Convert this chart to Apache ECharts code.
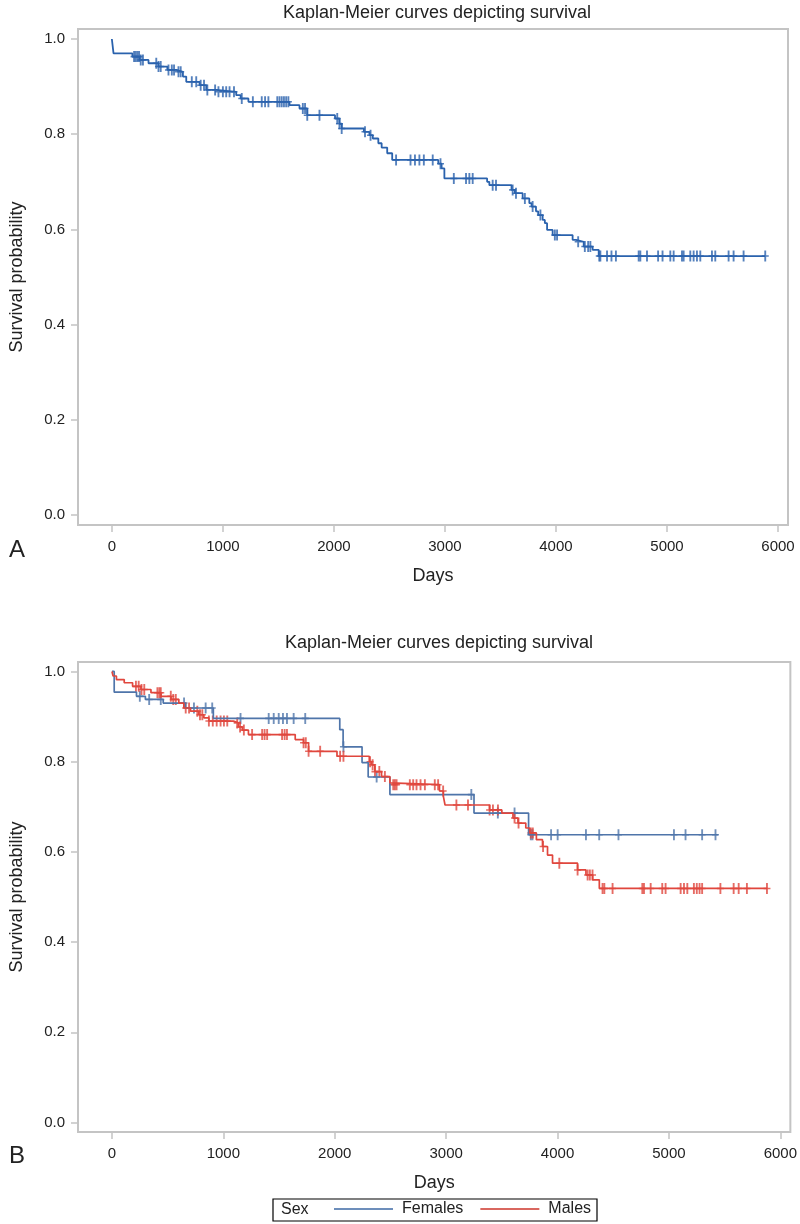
<!DOCTYPE html>
<html><head><meta charset="utf-8">
<script src="https://cdn.jsdelivr.net/npm/echarts@6/dist/echarts.min.js"></script>
<style>html,body{margin:0;padding:0;background:#fff}#c{width:800px;height:1224px}</style>
</head><body><div id="c"></div>
<script>
// ---------- DATA ----------
const xTicks = [0, 1000, 2000, 3000, 4000, 5000, 6000];
const yTicks = [0.0, 0.2, 0.4, 0.6, 0.8, 1.0];

// Panel A: overall KM curve (event times, survival after event)
const aTimes = [0, 15, 185, 250, 330, 420, 500, 580, 640, 670, 790, 850, 940, 1120, 1160, 1230, 1600, 1690, 1760, 2010, 2050, 2070, 2270, 2320, 2350, 2400, 2430, 2480, 2525, 2940, 2970, 2995, 3380, 3400, 3600, 3630, 3700, 3760, 3780, 3820, 3840, 3880, 3900, 3920, 3970, 4150, 4180, 4250, 4330, 4385];
const aSurv  = [1.000, 0.970, 0.963, 0.956, 0.949, 0.942, 0.935, 0.931, 0.921, 0.910, 0.903, 0.893, 0.889, 0.882, 0.875, 0.868, 0.861, 0.854, 0.840, 0.833, 0.822, 0.812, 0.805, 0.798, 0.791, 0.781, 0.772, 0.760, 0.746, 0.738, 0.728, 0.707, 0.700, 0.693, 0.683, 0.676, 0.665, 0.655, 0.648, 0.638, 0.630, 0.620, 0.613, 0.599, 0.588, 0.578, 0.574, 0.564, 0.557, 0.544];
const aEnd = 5885;
const aCensor = [200, 215, 230, 245, 260, 280, 400, 420, 440, 510, 540, 560, 600, 620, 720, 760, 800, 830, 860, 930, 960, 1000, 1030, 1060, 1100, 1170, 1270, 1350, 1380, 1410, 1490, 1510, 1530, 1550, 1570, 1590, 1720, 1740, 1760, 1870, 2030, 2050, 2070, 2280, 2330, 2560, 2690, 2730, 2770, 2810, 2890, 2960, 3080, 3190, 3220, 3250, 3430, 3460, 3610, 3640, 3720, 3790, 3860, 3990, 4010, 4200, 4260, 4290, 4310, 4390, 4400, 4460, 4500, 4540, 4745, 4760, 4820, 4920, 4960, 5030, 5060, 5135, 5150, 5210, 5240, 5270, 5300, 5405, 5435, 5555, 5600, 5690, 5885];

// Panel B: Females
const fTimes = [0, 20, 220, 300, 460, 660, 910, 2045, 2075, 2245, 2300, 2495, 3250, 3740];
const fSurv  = [1.000, 0.954, 0.945, 0.938, 0.930, 0.919, 0.896, 0.871, 0.833, 0.798, 0.766, 0.727, 0.686, 0.638];
const fEnd = 5440;
const fCensor = [250, 334, 438, 647, 736, 841, 900, 1154, 1407, 1452, 1497, 1535, 1571, 1631, 1735, 2078, 2376, 3226, 3464, 3614, 3760, 3775, 3942, 4001, 4255, 4374, 4547, 5045, 5149, 5298, 5418];

// Panel B: Males
const mTimes = [0, 10, 40, 110, 185, 260, 350, 440, 530, 600, 645, 705, 780, 825, 870, 1090, 1135, 1170, 1225, 1645, 1720, 1765, 2020, 2310, 2330, 2360, 2420, 2495, 2510, 2940, 2975, 2990, 3390, 3500, 3600, 3645, 3715, 3750, 3810, 3865, 3910, 3955, 4180, 4255, 4315, 4375];
const mSurv  = [1.000, 0.990, 0.982, 0.975, 0.967, 0.960, 0.953, 0.945, 0.938, 0.930, 0.919, 0.912, 0.904, 0.897, 0.890, 0.886, 0.877, 0.870, 0.860, 0.849, 0.842, 0.823, 0.812, 0.800, 0.793, 0.778, 0.767, 0.753, 0.749, 0.735, 0.723, 0.704, 0.693, 0.686, 0.675, 0.664, 0.653, 0.642, 0.627, 0.612, 0.593, 0.575, 0.560, 0.549, 0.538, 0.519];
const mEnd = 5885;
const mCensor = [215, 240, 265, 290, 408, 425, 438, 528, 550, 573, 662, 692, 766, 790, 811, 870, 905, 940, 975, 1005, 1035, 1124, 1150, 1184, 1258, 1348, 1370, 1393, 1527, 1550, 1571, 1720, 1740, 1765, 1869, 2048, 2078, 2317, 2340, 2361, 2400, 2450, 2525, 2540, 2555, 2674, 2704, 2734, 2770, 2809, 2898, 2928, 2973, 3092, 3196, 3390, 3420, 3465, 3614, 3650, 3760, 3778, 3870, 4016, 4180, 4270, 4290, 4314, 4404, 4420, 4494, 4761, 4776, 4836, 4940, 4970, 5105, 5135, 5165, 5224, 5250, 5275, 5298, 5462, 5581, 5626, 5700, 5880];

// ---------- HELPERS ----------
function stepData(times, surv, end) {
  const d = times.map((t, i) => [t, surv[i]]);
  d.push([end, surv[surv.length - 1]]);
  return d;
}
function survAt(times, surv, t) {
  let v = surv[0];
  for (let i = 0; i < times.length; i++) { if (times[i] <= t) v = surv[i]; else break; }
  return v;
}
function censorData(times, surv, cens) { return cens.map(t => [t, survAt(times, surv, t)]); }

const plus = 'path://M-0.8,-5H0.8V-0.7H3V0.7H0.8V5H-0.8V0.7H-3V-0.7H-0.8Z';
const FONT = '"Liberation Sans", Arial, sans-serif';
const TXT = '#222';
const FRAME = '#c4c4c4';
const colA = '#2a62ad', colF = '#4f75aa', colM = '#e0463d';

function xAx(gi) {
  return {
    gridIndex: gi, type: 'value', min: -305, max: 6090,
    name: 'Days', nameLocation: 'middle', nameGap: 42,
    nameTextStyle: { fontFamily: FONT, fontSize: 18, color: TXT },
    axisLine: { show: false, onZero: false },
    axisTick: { show: true, inside: false, length: 7, customValues: xTicks, lineStyle: { color: FRAME, width: 1.5 } },
    axisLabel: { customValues: xTicks, margin: 14, fontFamily: FONT, fontSize: 15, color: TXT, formatter: v => String(Math.round(v)) },
    splitLine: { show: false }
  };
}
function yAx(gi) {
  return {
    gridIndex: gi, type: 'value', min: -0.021, max: 1.021,
    name: 'Survival probability', nameLocation: 'middle', nameGap: 52,
    nameTextStyle: { fontFamily: FONT, fontSize: 18, color: TXT },
    axisLine: { show: false, onZero: false },
    axisTick: { show: true, inside: false, length: 7, customValues: yTicks, lineStyle: { color: FRAME, width: 1.5 } },
    axisLabel: { customValues: yTicks, margin: 13, fontFamily: FONT, fontSize: 15, color: TXT, formatter: v => v.toFixed(1) },
    splitLine: { show: false }
  };
}

const chart = echarts.init(document.getElementById('c'), null, { renderer: 'canvas' });
chart.setOption({
  animation: false,
  backgroundColor: '#fff',
  title: [
    { text: 'Kaplan-Meier curves depicting survival', left: 432, top: -1, textAlign: 'center',
      textStyle: { fontFamily: FONT, fontSize: 18, fontWeight: 'normal', color: TXT } },
    { text: 'Kaplan-Meier curves depicting survival', left: 434, top: 629, textAlign: 'center',
      textStyle: { fontFamily: FONT, fontSize: 18, fontWeight: 'normal', color: TXT } },
    { text: 'A', left: 4, top: 533, textStyle: { fontFamily: FONT, fontSize: 24, fontWeight: 'normal', color: TXT } },
    { text: 'B', left: 4, top: 1139, textStyle: { fontFamily: FONT, fontSize: 24, fontWeight: 'normal', color: TXT } }
  ],
  grid: [
    { left: 76, right: 12, top: 29, height: 496, show: true, borderColor: FRAME, borderWidth: 2, backgroundColor: '#fff' },
    { left: 77, right: 8, top: 662, height: 470, show: true, borderColor: FRAME, borderWidth: 2, backgroundColor: '#fff' }
  ],
  xAxis: [xAx(0), xAx(1)],
  yAxis: [yAx(0), yAx(1)],
  legend: {
    data: ['Females', 'Males'],
    left: 334, top: 1201, itemWidth: 59, itemHeight: 2, itemGap: 17,
    icon: 'rect', padding: 0,
    textStyle: { fontFamily: FONT, fontSize: 16, color: TXT, padding: [0, 0, 0, 4] }
  },
  graphic: [
    { type: 'rect', shape: { x: 273, y: 1199, width: 324, height: 22 }, style: { fill: 'none', stroke: '#000', lineWidth: 1.2 }, silent: true },
    { type: 'text', x: 281, y: 1210, style: { text: 'Sex', font: '16px ' + FONT, fill: TXT, textVerticalAlign: 'middle' }, silent: true }
  ],
  series: [
    { name: 'All', type: 'line', xAxisIndex: 0, yAxisIndex: 0, step: 'end', symbol: 'none',
      data: stepData(aTimes, aSurv, aEnd), lineStyle: { color: colA, width: 1.8 }, itemStyle: { color: colA } },
    { name: 'AllCensor', type: 'scatter', xAxisIndex: 0, yAxisIndex: 0, symbol: plus, symbolSize: [7, 11],
      data: censorData(aTimes, aSurv, aCensor), itemStyle: { color: colA } },
    { name: 'Females', type: 'line', xAxisIndex: 1, yAxisIndex: 1, step: 'end', symbol: 'none',
      data: stepData(fTimes, fSurv, fEnd), lineStyle: { color: colF, width: 1.7 }, itemStyle: { color: '#6d8ebb' } },
    { name: 'FemCensor', type: 'scatter', xAxisIndex: 1, yAxisIndex: 1, symbol: plus, symbolSize: [7, 11],
      data: censorData(fTimes, fSurv, fCensor), itemStyle: { color: colF } },
    { name: 'Males', type: 'line', xAxisIndex: 1, yAxisIndex: 1, step: 'end', symbol: 'none',
      data: stepData(mTimes, mSurv, mEnd), lineStyle: { color: colM, width: 1.7 }, itemStyle: { color: '#d9675f' } },
    { name: 'MaleCensor', type: 'scatter', xAxisIndex: 1, yAxisIndex: 1, symbol: plus, symbolSize: [7, 11],
      data: censorData(mTimes, mSurv, mCensor), itemStyle: { color: colM } }
  ]
});
</script></body></html>
